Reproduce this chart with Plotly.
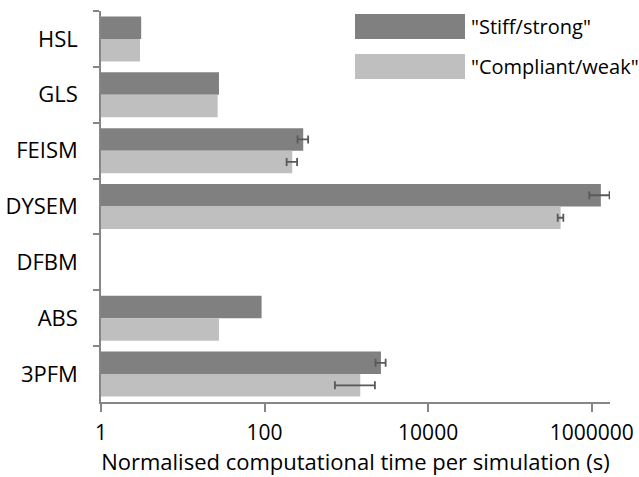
import plotly.graph_objects as go

categories = ["HSL", "GLS", "FEISM", "DYSEM", "DFBM", "ABS", "3PFM"]
stiff_vals = [3.1, 27.7, 297, 1295000, None, 92, 2650]
stiff_err = [0, 0, 44, 360000, 0, 0, 375]
compl_vals = [3.0, 26.7, 218, 417000, None, 27.7, 1480]
compl_err = [0, 0, 32, 33000, 0, 0, 755]
tick_vals = [1, 100, 10000, 1000000]
tick_text = ["1", "100", "10000", "1000000"]
series_names = ['"Stiff/strong"', '"Compliant/weak"']

DARK = "#808080"
LIGHT = "#bfbfbf"
ERR = "#595959"
AXIS = "#868686"
FONT = "Open Sans"
FS = 22

def err_cfg(vals):
    # bars without error bars get NaN so that no cap is drawn
    arr = [e if e > 0 else "NaN" for e in vals]
    return dict(type="data", array=arr, visible=True, color=ERR, thickness=1.8, width=4)

fig = go.Figure()
fig.add_trace(go.Bar(y=categories, x=stiff_vals, orientation="h", name=series_names[0],
                     marker=dict(color=DARK, line=dict(width=0)),
                     error_x=err_cfg(stiff_err)))
fig.add_trace(go.Bar(y=categories, x=compl_vals, orientation="h", name=series_names[1],
                     marker=dict(color=LIGHT, line=dict(width=0)),
                     error_x=err_cfg(compl_err)))

fig.update_layout(
    width=639, height=477,
    margin=dict(l=101, r=29, t=11, b=75),
    paper_bgcolor="white", plot_bgcolor="white",
    barmode="group", bargap=0.195, bargroupgap=0,
    showlegend=False,
    font=dict(family=FONT, size=FS, color="#000000"),
)
fig.update_xaxes(
    type="log", range=[0, 6.224], automargin=False,
    tickvals=tick_vals, ticktext=tick_text,
    ticks="outside", ticklen=8, tickwidth=1.5, tickcolor=AXIS,
    showline=True, linecolor=AXIS, linewidth=1.5,
    showgrid=False, zeroline=False,
    tickfont=dict(family=FONT, size=21),
    ticklabelstandoff=3,
    title=dict(text="Normalised computational time per simulation (s)",
               font=dict(family=FONT, size=FS), standoff=2),
)
fig.update_yaxes(
    type="category", categoryorder="array", categoryarray=categories,
    autorange="reversed", automargin=False,
    tickson="boundaries",
    ticks="outside", ticklen=6, tickwidth=1.5, tickcolor=AXIS,
    showline=True, linecolor=AXIS, linewidth=1.5,
    showgrid=False, zeroline=False,
    tickfont=dict(family=FONT, size=FS),
    ticklabelstandoff=17,
)

# legend drawn manually (large swatches as in reference)
for i, (name, col) in enumerate(zip(series_names, [DARK, LIGHT])):
    y0 = 14 + i * 40
    fig.add_shape(type="rect", xref="paper", yref="paper",
                  x0=(355 - 101) / 509, x1=(465 - 101) / 509,
                  y0=1 - (y0 + 25 - 11) / 391, y1=1 - (y0 - 11) / 391,
                  fillcolor=col, line=dict(width=0), layer="above")
    fig.add_annotation(xref="paper", yref="paper",
                       x=(469 - 101) / 509, y=1 - (y0 + 12.5 - 11) / 391,
                       xanchor="left", yanchor="middle", showarrow=False,
                       text=name, font=dict(family=FONT, size=20, color="#000000"))

fig.write_html("out.html")
